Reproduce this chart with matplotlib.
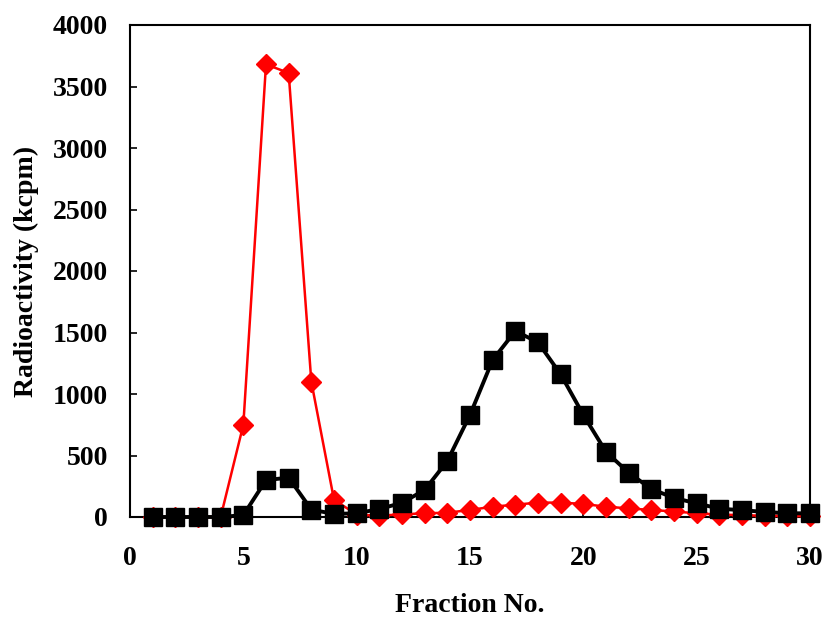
import matplotlib
matplotlib.use("Agg")
import matplotlib.pyplot as plt

fractions = list(range(1, 31))
red_values = [0, 0, 0, 0, 750, 3680, 3610, 1100, 140, 20,
              10, 22, 30, 35, 57, 84, 100, 117, 117, 106,
              84, 70, 57, 45, 30, 20, 15, 10, 10, 5]
black_values = [0, 0, 0, 0, 15, 300, 320, 60, 25, 30,
                65, 115, 220, 455, 830, 1277, 1512, 1420, 1160, 830,
                530, 360, 228, 155, 111, 68, 55, 42, 30, 30]

xticks = [0, 5, 10, 15, 20, 25, 30]
yticks = [0, 500, 1000, 1500, 2000, 2500, 3000, 3500, 4000]

plt.rcParams['font.family'] = ['Liberation Serif', 'DejaVu Serif']
plt.rcParams['font.weight'] = 'bold'

fig = plt.figure(figsize=(8.26, 6.19), dpi=100)
ax = fig.add_axes([130/826, 1-517/619, 680/826, 492/619])

ax.plot(fractions, red_values, color='#ff0000', lw=1.8, marker='D', ms=10.5,
        clip_on=False, zorder=3)
ax.plot(fractions, black_values, color='black', lw=2.8, marker='s', ms=12.5,
        clip_on=False, zorder=4)

ax.set_xlim(0, 30)
ax.set_ylim(0, 4000)
ax.set_xticks(xticks)
ax.set_yticks(yticks)
ax.tick_params(direction='in', length=5, width=1.2, labelsize=20)
ax.tick_params(axis='y', pad=16)
ax.tick_params(axis='x', pad=21)
for lab in ax.get_xticklabels() + ax.get_yticklabels():
    lab.set_fontweight('bold')
for s in ax.spines.values():
    s.set_linewidth(1.5)

ax.set_xlabel('Fraction No.', fontsize=20, fontweight='bold', labelpad=16)
ax.set_ylabel('Radioactivity (kcpm)', fontsize=20, fontweight='bold', labelpad=10)

fig.savefig('out.png', dpi=100)
